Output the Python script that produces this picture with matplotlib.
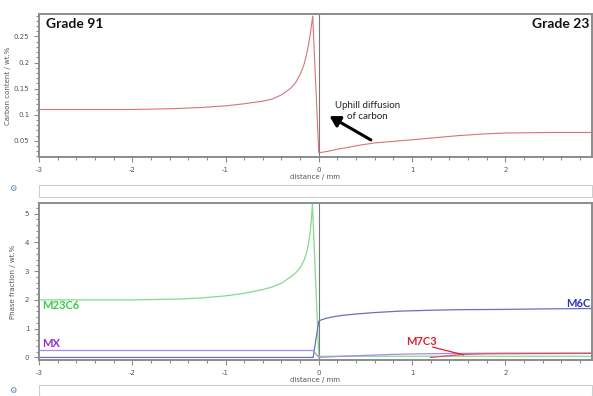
import numpy as np
import matplotlib
matplotlib.use("Agg")
import matplotlib.pyplot as plt
from matplotlib.ticker import MultipleLocator
from matplotlib.patches import Rectangle

plt.rcParams["axes.unicode_minus"] = False

# carbon profile (top panel)
carbon_x = [-3.0, -2.5, -2.0, -1.5, -1.25, -1.0, -0.8, -0.6, -0.5, -0.4, -0.3, -0.25,
            -0.2, -0.16, -0.13, -0.11, -0.09, -0.075, -0.065,
            0.0, 0.1, 0.2, 0.3, 0.45, 0.6, 0.8, 1.0, 1.25, 1.5, 1.75, 2.0, 2.5, 2.93]
carbon_c = [0.110, 0.110, 0.110, 0.112, 0.114, 0.117, 0.121, 0.126, 0.130, 0.138, 0.151, 0.161,
            0.177, 0.195, 0.216, 0.234, 0.256, 0.275, 0.289,
            0.027, 0.030, 0.034, 0.037, 0.042, 0.046, 0.049, 0.052, 0.056, 0.060, 0.063,
            0.065, 0.066, 0.066]

# phase fractions (bottom panel)
m23c6_x = [-3.0, -2.0, -1.5, -1.25, -1.0, -0.8, -0.6, -0.5, -0.4, -0.31, -0.25, -0.2,
           -0.16, -0.13, -0.11, -0.09, -0.078, -0.068,
           0.0, 1.0, 2.0, 2.93]
m23c6_y = [2.0, 2.0, 2.03, 2.07, 2.14, 2.23, 2.36, 2.45, 2.58, 2.78, 2.93, 3.12,
           3.36, 3.65, 3.95, 4.4, 4.85, 5.35,
           0.04, 0.04, 0.04, 0.04]
m6c_x = [-3.0, -0.06, 0.0, 0.03, 0.08, 0.15, 0.25, 0.4, 0.6, 0.87, 1.2, 1.5, 2.0, 2.5, 2.93]
m6c_y = [0.0, 0.0, 1.26, 1.31, 1.36, 1.41, 1.46, 1.51, 1.56, 1.61, 1.64, 1.66, 1.67, 1.69, 1.7]
mx_x = [-3.0, -0.06, 0.0, 0.25, 0.5, 0.75, 1.0, 1.5, 2.0, 2.93]
mx_y = [0.24, 0.24, 0.0, 0.04, 0.07, 0.1, 0.12, 0.14, 0.15, 0.15]
m7c3_x = [1.2, 1.3, 1.4, 1.5, 1.6, 1.8, 2.0, 2.93]
m7c3_y = [0.0, 0.03, 0.06, 0.09, 0.11, 0.125, 0.13, 0.14]

frame = "#8c8c8c"
tick_c = "#555555"

fig = plt.figure(figsize=(5.93, 3.96), dpi=100)
ax1 = fig.add_axes([39/593, 1-157/396, 553/593, 143/396])
ax2 = fig.add_axes([39/593, 1-360/396, 553/593, 157/396])

for ax in (ax1, ax2):
    for s in ax.spines.values():
        s.set_color(frame)
        s.set_linewidth(1.4)
    ax.set_xlim(-3, 2.93)
    ax.xaxis.set_major_locator(MultipleLocator(1))
    ax.xaxis.set_minor_locator(MultipleLocator(0.2))
    ax.tick_params(which="both", direction="out", colors=frame, labelcolor=tick_c,
                   labelsize=5, width=0.8)
    ax.tick_params(which="major", length=3.5)
    ax.tick_params(which="minor", length=2)
    ax.axvline(0, color="#7a7a7a", lw=0.8, zorder=1)
    ax.set_xlabel("distance / mm", fontsize=5, color=tick_c, labelpad=1)

# top panel
ax1.plot(carbon_x, carbon_c, color="#d9737b", lw=0.8)
ax1.set_ylim(0.019, 0.293)
ax1.yaxis.set_minor_locator(MultipleLocator(0.01))
ax1.set_yticks([0.05, 0.1, 0.15, 0.2, 0.25])
ax1.set_yticklabels(["0.05", "0.1", "0.15", "0.2", "0.25"])
ax1.set_ylabel("Carbon content / wt.%", fontsize=5, color=tick_c, labelpad=2)
ax1.text(0.012, 0.97, "Grade 91", transform=ax1.transAxes, ha="left", va="top",
         fontsize=10, fontweight="bold", family="Lato", color="#111111")
ax1.text(0.995, 0.97, "Grade 23", transform=ax1.transAxes, ha="right", va="top",
         fontsize=10, fontweight="bold", family="Lato", color="#111111")
ax1.annotate("", xy=(0.09, 0.1), xytext=(0.585, 0.049),
             arrowprops=dict(arrowstyle="-|>,head_width=0.35,head_length=0.6",
                             color="black", lw=2.2))
ax1.text(0.52, 0.107, "Uphill diffusion\nof carbon", ha="center", va="center",
         fontsize=7, family="Lato", color="#222222", linespacing=1.3)

# bottom panel
ax2.plot(m23c6_x, m23c6_y, color="#86d98f", lw=0.9)
ax2.plot(m6c_x, m6c_y, color="#6a70bf", lw=0.9)
ax2.plot(mx_x, mx_y, color="#a98ae6", lw=0.9)
ax2.plot(m7c3_x, m7c3_y, color="#d9535e", lw=0.9)
ax2.set_ylim(-0.09, 5.37)
ax2.yaxis.set_major_locator(MultipleLocator(1))
ax2.yaxis.set_minor_locator(MultipleLocator(0.2))
ax2.set_ylabel("Phase fraction / wt.%", fontsize=5, color=tick_c, labelpad=6)
ax2.text(-2.97, 1.8, "M23C6", color="#33cc44", fontsize=8, fontweight="bold",
         family="Lato", va="center")
ax2.text(-2.97, 0.5, "MX", color="#8e2fd0", fontsize=8, fontweight="bold",
         family="Lato", va="center")
ax2.text(2.91, 1.87, "M6C", color="#2a34b8", fontsize=8, fontweight="bold",
         family="Lato", va="center", ha="right")
ax2.text(1.1, 0.55, "M7C3", color="#e0202e", fontsize=8, fontweight="bold",
         family="Lato", va="center", ha="center")
ax2.annotate("", xy=(1.55, 0.09), xytext=(1.22, 0.36),
             arrowprops=dict(arrowstyle="-", color="#e0202e", lw=0.9,
                             shrinkA=0, shrinkB=0))

# scroll-bar widgets under each panel
for y0, h in [(1-197/396, 12/396), (0.0, 11/396)]:
    fig.patches.append(Rectangle((39/593, y0), 553/593, h, transform=fig.transFigure,
                                 facecolor="white", edgecolor="#cfcfcf", lw=0.8))
for yy in [1-188/396, 1-390/396]:
    fig.text(13/593, yy, "\u2699", fontsize=6, color="#5a7fb0", ha="center", va="center",
             family="DejaVu Sans")

fig.savefig("out.png", dpi=100)
